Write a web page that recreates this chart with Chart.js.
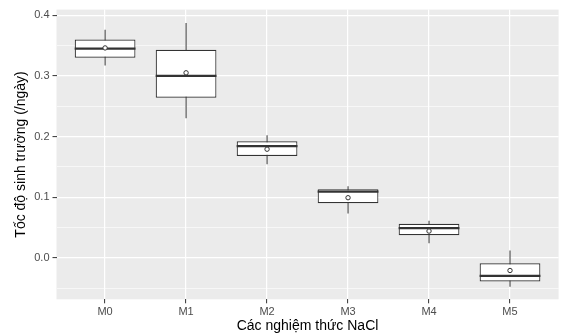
<!DOCTYPE html>
<html>
<head>
<meta charset="utf-8">
<script src="https://cdn.jsdelivr.net/npm/chart.js@4.4.1/dist/chart.umd.min.js"></script>
<style>
    html, body { margin: 0; padding: 0; background: #ffffff; }
    #wrap { width: 562px; height: 333px; }
</style>
</head>
<body>
<div id="wrap"><canvas id="growthChart"></canvas></div>
<script>
// Growth rate per NaCl treatment (boxplot summary values)
const categories = ['M0', 'M1', 'M2', 'M3', 'M4', 'M5'];
const whiskerLow = [0.317, 0.230, 0.154, 0.073, 0.024, -0.048];
const boxLow = [0.330, 0.264, 0.168, 0.090, 0.037, -0.039];
const medians = [0.345, 0.300, 0.184, 0.109, 0.049, -0.030];
const boxHigh = [0.360, 0.343, 0.192, 0.113, 0.056, -0.009];
const whiskerHigh = [0.376, 0.387, 0.202, 0.118, 0.061, 0.012];
const means = [0.346, 0.305, 0.179, 0.099, 0.044, -0.021];
const yTicks = [-0.05, 0.0, 0.05, 0.1, 0.15, 0.2, 0.25, 0.3, 0.35, 0.4];

const darkLine = '#333333';
const isMajor = v => Math.abs(v * 10 - Math.round(v * 10)) < 1e-6;

Chart.defaults.font.family = '"Liberation Sans", Arial, sans-serif';

// grey ggplot-like panel behind the grid
const panelBackground = {
    id: 'panelBackground',
    beforeDraw(chart) {
        const { ctx, chartArea } = chart;
        ctx.save();
        ctx.fillStyle = '#EBEBEB';
        ctx.fillRect(chartArea.left, chartArea.top, chartArea.right - chartArea.left, chartArea.bottom - chartArea.top);
        ctx.restore();
    }
};

new Chart(document.getElementById('growthChart'), {
    type: 'bar',
    data: {
        datasets: [
            {
                // whiskers
                label: 'whiskers',
                data: categories.map((c, i) => ({ x: i, y: [whiskerLow[i], whiskerHigh[i]] })),
                backgroundColor: darkLine,
                borderWidth: 0,
                barThickness: 1,
                inflateAmount: 0,
                grouped: false,
                order: 4
            },
            {
                // boxes (q1 - q3)
                label: 'boxes',
                data: categories.map((c, i) => ({ x: i, y: [boxLow[i], boxHigh[i]] })),
                backgroundColor: '#ffffff',
                borderColor: darkLine,
                borderWidth: 1.2,
                borderSkipped: false,
                barPercentage: 0.75,
                categoryPercentage: 1,
                inflateAmount: 0,
                grouped: false,
                order: 3
            },
            {
                // median lines
                type: 'line',
                label: 'median',
                data: categories.map((c, i) => ({ x: i, y: medians[i] })),
                showLine: false,
                pointStyle: 'line',
                pointRadius: 30.4,
                pointHoverRadius: 30.4,
                pointBorderWidth: 2.2,
                pointBorderColor: darkLine,
                clip: false,
                order: 2
            },
            {
                // mean points
                type: 'line',
                label: 'mean',
                data: categories.map((c, i) => ({ x: i, y: means[i] })),
                showLine: false,
                pointStyle: 'circle',
                pointRadius: 2.2,
                pointHoverRadius: 2.2,
                pointBorderWidth: 1,
                pointBorderColor: darkLine,
                pointBackgroundColor: '#ffffff',
                clip: false,
                order: 1
            }
        ]
    },
    options: {
        responsive: true,
        maintainAspectRatio: false,
        animation: false,
        events: [],
        layout: {
            autoPadding: false,
            padding: { left: 0, right: 3.4, top: 8.3, bottom: 0 }
        },
        plugins: {
            legend: { display: false },
            tooltip: { enabled: false }
        },
        scales: {
            x: {
                type: 'linear',
                min: -0.6,
                max: 5.6,
                offset: false,
                afterBuildTicks: axis => {
                    axis.ticks = categories.map((c, i) => ({ value: i }));
                },
                afterFit: axis => { axis.height = 33.7; },
                ticks: {
                    callback: value => categories[value],
                    color: '#4D4D4D',
                    font: { size: 11 },
                    padding: 2,
                    maxRotation: 0
                },
                grid: {
                    offset: false,
                    color: '#ffffff',
                    lineWidth: 1.2,
                    drawTicks: true,
                    tickLength: 4,
                    tickColor: darkLine,
                    tickWidth: 1
                },
                border: { display: false },
                title: {
                    display: true,
                    text: 'Các nghiệm thức NaCl',
                    color: '#000000',
                    font: { size: 14, lineHeight: 1.05 },
                    padding: { top: 0, bottom: 0 }
                }
            },
            y: {
                min: -0.0685,
                max: 0.4092,
                afterBuildTicks: axis => {
                    axis.ticks = yTicks.map(v => ({ value: v }));
                },
                afterFit: axis => { axis.width = 56.5; },
                ticks: {
                    callback: value => isMajor(value) ? value.toFixed(1) : '',
                    color: '#4D4D4D',
                    font: { size: 11 },
                    padding: 3
                },
                grid: {
                    color: '#ffffff',
                    lineWidth: ctx => isMajor(ctx.tick.value) ? 1.2 : 0.6,
                    drawTicks: true,
                    tickLength: 4,
                    tickColor: ctx => isMajor(ctx.tick.value) ? darkLine : 'rgba(0,0,0,0)',
                    tickWidth: 1
                },
                border: { display: false },
                title: {
                    display: true,
                    text: 'Tốc độ sinh trưởng (/ngày)',
                    color: '#000000',
                    font: { size: 14 },
                    padding: { top: 13, bottom: 0 }
                }
            }
        }
    },
    plugins: [panelBackground]
});
</script>
</body>
</html>
